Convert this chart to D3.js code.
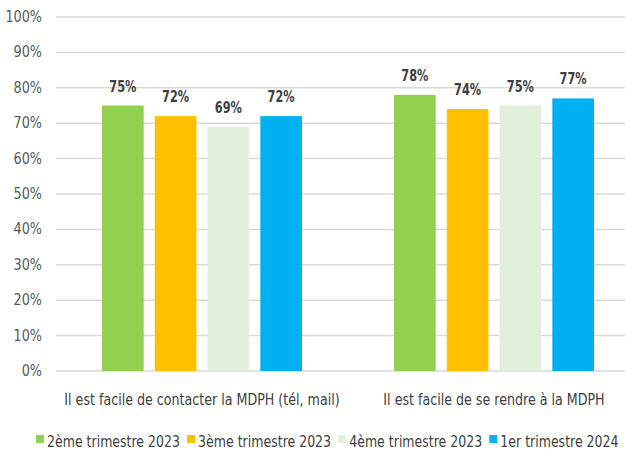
<!DOCTYPE html>
<html>
<head>
<meta charset="utf-8">
<script src="https://cdn.jsdelivr.net/npm/d3@7"></script>
<style>
  body { margin: 0; background: #fff; }
  text { font-family: "DejaVu Sans Condensed", "Liberation Sans Narrow", sans-serif; }
</style>
</head>
<body>
<div id="chart"></div>
<script>
// data
var categories = ["Il est facile de contacter la MDPH (tél, mail)", "Il est facile de se rendre à la MDPH"];
var series = ["2ème trimestre 2023", "3ème trimestre 2023", "4ème trimestre 2023", "1er trimestre 2024"];
var colors = ["#92D050", "#FFC000", "#E2EFDA", "#00B0F0"];
var values = [
  [75, 72, 69, 72],   // contacter
  [78, 74, 75, 77]    // se rendre
];
var yTicks = [0, 10, 20, 30, 40, 50, 60, 70, 80, 90, 100];

var W = 625, H = 459;
var svg = d3.select("#chart").append("svg")
  .attr("width", W).attr("height", H);

// squeeze text horizontally to look like the narrow office font
function squeeze(sel, f) {
  sel.each(function(){
    var t = d3.select(this);
    var x = +t.attr("x"), y = +t.attr("y");
    t.attr("x", 0).attr("y", 0)
      .attr("transform", "translate(" + x + "," + y + ") scale(" + f + ",1)");
  });
}

// scales
var y = d3.scaleLinear().domain([0, 100]).range([371, 17]);
var x0 = d3.scaleBand().domain(categories).range([56, 640]);
var x1 = d3.scaleBand().domain(series).range([46, 246]).paddingInner(0.21);

// gridlines
svg.append("g").selectAll("line")
  .data(yTicks).enter().append("line")
  .attr("x1", 56).attr("x2", W)
  .attr("y1", function(d){ return y(d); })
  .attr("y2", function(d){ return y(d); })
  .attr("stroke", "#d9d9d9").attr("stroke-width", 1.5);

// y axis labels
svg.append("g").selectAll("text")
  .data(yTicks).enter().append("text")
  .attr("x", 42)
  .attr("y", function(d){ return y(d) + 5; })
  .attr("text-anchor", "end")
  .attr("fill", "#595959")
  .style("font-size", "15px")
  .text(function(d){ return d + "%"; })
  .call(squeeze, 0.95);

// bars
var groups = svg.append("g").selectAll("g")
  .data(categories).enter().append("g")
  .attr("transform", function(d){ return "translate(" + x0(d) + ",0)"; });

groups.selectAll("rect")
  .data(function(d, i){ return series.map(function(s, j){ return {s: s, v: values[i][j], c: colors[j]}; }); })
  .enter().append("rect")
  .attr("x", function(d){ return x1(d.s); })
  .attr("width", x1.bandwidth())
  .attr("y", function(d){ return y(d.v); })
  .attr("height", function(d){ return y(0) - y(d.v); })
  .attr("fill", function(d){ return d.c; });

// value labels
groups.selectAll("text")
  .data(function(d, i){ return series.map(function(s, j){ return {s: s, v: values[i][j]}; }); })
  .enter().append("text")
  .attr("x", function(d){ return x1(d.s) + x1.bandwidth() / 2; })
  .attr("y", function(d){ return y(d.v) - 14; })
  .attr("text-anchor", "middle")
  .attr("fill", "#404040")
  .style("font-size", "15px")
  .style("font-weight", "bold")
  .text(function(d){ return d.v + "%"; })
  .call(squeeze, 0.84);

// category labels
svg.append("g").selectAll("text")
  .data(categories).enter().append("text")
  .attr("x", function(d){ return x0(d) + x0.bandwidth() / 2; })
  .attr("y", 405)
  .attr("text-anchor", "middle")
  .attr("fill", "#404040")
  .style("font-size", "16px")
  .text(function(d){ return d; })
  .call(squeeze, 0.88);

// legend
var legend = svg.append("g").attr("transform", "translate(36,447)");
var lx = 0;
series.forEach(function(s, i){
  var item = legend.append("g").attr("transform", "translate(" + lx + ",0)");
  item.append("rect").attr("x", 0).attr("y", -12).attr("width", 8).attr("height", 8)
    .attr("fill", colors[i]);
  var t = item.append("text").attr("x", 11).attr("y", 0)
    .attr("fill", "#404040")
    .style("font-size", "15px")
    .text(s);
  var w = t.node().getComputedTextLength() * 0.93;
  t.call(squeeze, 0.93);
  lx += 11 + w + 7;
});
</script>
</body>
</html>
